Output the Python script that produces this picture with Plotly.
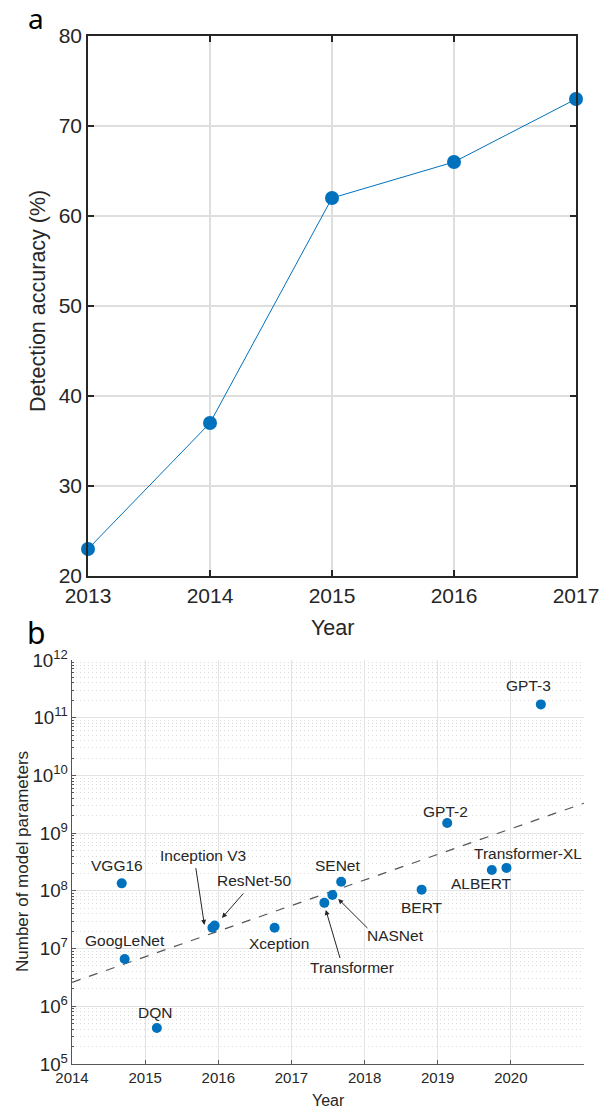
import numpy as np
import plotly.graph_objects as go

# ---- Panel a data ----
years_a = [2013, 2014, 2015, 2016, 2017]
accuracy = [23, 37, 62, 66, 73]

# ---- Panel b data ----
models = ["VGG16", "GoogLeNet", "DQN", "Inception V3", "ResNet-50", "Xception",
          "Transformer", "NASNet", "SENet", "BERT", "GPT-2", "ALBERT",
          "Transformer-XL", "GPT-3"]
model_years = [2014.68, 2014.72, 2015.16, 2015.92, 2015.95, 2016.77,
               2017.45, 2017.56, 2017.68, 2018.78, 2019.13, 2019.74,
               2019.94, 2020.41]
model_params = [1.35e8, 6.6e6, 4.2e5, 2.3e7, 2.5e7, 2.3e7,
                6.2e7, 8.5e7, 1.44e8, 1.05e8, 1.5e9, 2.3e8,
                2.5e8, 1.7e11]
trend_years = [2014, 2021]
trend_params = [2.6e6, 3.3e9]

# label positions (year, log10 params)
label_x = [2014.61, 2014.72, 2015.13, 2015.79, 2016.49, 2016.83,
           2017.83, 2018.42, 2017.63, 2018.79, 2019.10, 2019.60,
           2020.23, 2020.24]
label_y = [8.434, 7.136, 5.895, 8.607, 8.18, 7.084,
           6.674, 7.222, 8.434, 7.718, 9.374, 8.122,
           8.653, 11.556]
# arrows: (model, tail year, tail log10, head year, head log10)
arrows = [("Inception V3", 2015.69, 8.42, 2015.81, 7.41),
          ("ResNet-50", 2016.36, 7.98, 2016.05, 7.53),
          ("Transformer", 2017.67, 6.81, 2017.47, 7.67),
          ("NASNet", 2018.06, 7.33, 2017.64, 7.86)]

W, H = 600, 1111
FONT = "Liberation Sans, Arial, Helvetica, sans-serif"
TXT = "#262626"
BLUE = "#0072BD"

def px_x(p):
    return p / W

def px_y(p):
    return 1 - p / H

fig = go.Figure()

fig.add_trace(go.Scatter(
    x=years_a, y=accuracy, mode="lines+markers",
    line=dict(color=BLUE, width=1),
    marker=dict(color=BLUE, size=14),
    cliponaxis=False, showlegend=False, xaxis="x", yaxis="y"))

fig.add_trace(go.Scatter(
    x=trend_years, y=trend_params, mode="lines",
    line=dict(color="#555555", width=1.2, dash="dash"),
    showlegend=False, xaxis="x2", yaxis="y2"))

fig.add_trace(go.Scatter(
    x=model_years, y=model_params, mode="markers",
    marker=dict(color=BLUE, size=10),
    cliponaxis=False, showlegend=False, xaxis="x2", yaxis="y2",
    text=models))

annotations = []
for name, lx, ly in zip(models, label_x, label_y):
    annotations.append(dict(x=lx, y=ly, xref="x2", yref="y2", text=name,
                            xanchor="center", yanchor="middle",
                            showarrow=False, font=dict(family=FONT, size=15.5, color=TXT)))
for name, tx, ty, hx, hy in arrows:
    annotations.append(dict(x=hx, y=hy, xref="x2", yref="y2", ax=tx, ay=ty,
                            axref="x2", ayref="y2", text="", showarrow=True,
                            arrowhead=2, arrowsize=1, arrowwidth=1,
                            arrowcolor="#262626"))

def paper_text(xp, yp, text, size, angle=0, family=FONT, color=TXT):
    return dict(x=px_x(xp), y=px_y(yp), xref="paper", yref="paper", text=text,
                xanchor="center", yanchor="middle", textangle=angle,
                showarrow=False, font=dict(family=family, size=size, color=color))

LETTER_FONT = "Noto Sans, Open Sans, sans-serif"
annotations += [
    paper_text(332, 628, "Year", 21.5),
    paper_text(38, 301, "Detection accuracy (%)", 21.5, angle=-90),
    paper_text(328, 1100, "Year", 16),
    paper_text(22, 862, "Number of model parameters", 17, angle=-90),
    paper_text(36, 18, "a", 28, family=LETTER_FONT, color="#000"),
    paper_text(36, 632, "b", 30, family=LETTER_FONT, color="#000"),
]

fig.update_layout(
    width=W, height=H, margin=dict(l=0, r=0, t=0, b=0, autoexpand=False),
    paper_bgcolor="white", plot_bgcolor="white",
    font=dict(family=FONT, color=TXT),
    annotations=annotations,
    xaxis=dict(domain=[px_x(88), px_x(576)], range=[2013, 2017], dtick=1,
               automargin=False,
               showline=True, linecolor="#262626", linewidth=1.5, mirror="ticks",
               ticks="inside", ticklen=6, tickwidth=1.5, tickcolor="#262626",
               showgrid=True, gridcolor="#dedede", gridwidth=1.5, zeroline=False,
               tickfont=dict(size=21, color=TXT), anchor="y"),
    yaxis=dict(domain=[px_y(576), px_y(36)], range=[20, 80], dtick=10,
               automargin=False,
               showline=True, linecolor="#262626", linewidth=1.5, mirror="ticks",
               ticks="inside", ticklen=6, tickwidth=1.5, tickcolor="#262626",
               showgrid=True, gridcolor="#dedede", gridwidth=1.5, zeroline=False,
               tickfont=dict(size=21, color=TXT), anchor="x"),
    xaxis2=dict(domain=[px_x(72), px_x(584)], range=[2014, 2021], dtick=1,
                automargin=False,
                showline=True, linecolor="#555555", linewidth=1.2,
                ticks="inside", ticklen=4, tickwidth=1, tickcolor="#555555",
                showgrid=True, gridcolor="#e3e3e3", gridwidth=1, zeroline=False,
                tickfont=dict(size=15, color=TXT), anchor="y2"),
    yaxis2=dict(domain=[px_y(1064), px_y(660)], type="log", range=[5, 12], dtick=1,
                exponentformat="power", automargin=False,
                showline=True, linecolor="#555555", linewidth=1.2,
                ticks="inside", ticklen=4, tickwidth=1, tickcolor="#555555",
                showgrid=True, gridcolor="#e3e3e3", gridwidth=1, zeroline=False,
                minor=dict(dtick="D1", showgrid=True, gridcolor="#dcdcdc", griddash="1px,3px",
                           ticks="inside", ticklen=2, tickcolor="#555555"),
                tickfont=dict(size=15, color=TXT), anchor="x2"),
)

fig.write_html("out.html", config={"displayModeBar": False},
               post_script="document.body.style.margin='0';document.body.style.overflow='hidden';")
